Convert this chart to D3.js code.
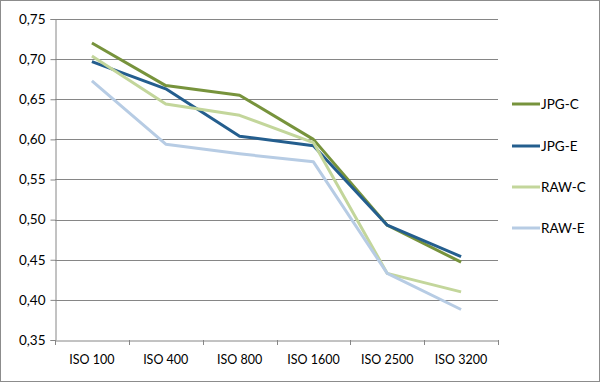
<!DOCTYPE html>
<html><head><meta charset="utf-8">
<script src="https://cdn.jsdelivr.net/npm/d3@7"></script>
<style>html,body{margin:0;padding:0;background:#fff;}svg{display:block;}</style>
</head><body>
<script>
const categories = ["ISO 100","ISO 400","ISO 800","ISO 1600","ISO 2500","ISO 3200"];
const seriesNames = ["JPG-C","JPG-E","RAW-C","RAW-E"];
const jpgC = [0.720,0.667,0.655,0.600,0.493,0.447];
const jpgE = [0.697,0.663,0.604,0.592,0.493,0.454];
const rawC = [0.704,0.644,0.630,0.596,0.433,0.410];
const rawE = [0.673,0.594,0.582,0.572,0.433,0.388];
const yTicks = [0.35,0.40,0.45,0.50,0.55,0.60,0.65,0.70,0.75];
const colors = ["#77933C","#245E8E","#C3D69B","#B7CCE4"];
const series = [jpgC,jpgE,rawC,rawE];

const W=600,H=382;
const svg=d3.select("body").append("svg").attr("width",W).attr("height",H);
svg.append("rect").attr("x",0.5).attr("y",0.5).attr("width",W-1).attr("height",H-1)
  .attr("fill","#fff").attr("stroke","#8c8c8c");
const L=55,R=498,T=19,B=340;
const x=d3.scaleBand().domain(categories).range([L,R]);
const y=d3.scaleLinear().domain([0.35,0.75]).range([B,T]);
const font="Lato, 'Open Sans', sans-serif";

// gridlines
svg.append("g").selectAll("line").data(yTicks.slice(1)).join("line")
  .attr("x1",L).attr("x2",R).attr("y1",d=>Math.round(y(d))+0.5).attr("y2",d=>Math.round(y(d))+0.5)
  .attr("stroke","#868686").attr("stroke-width",1);

// y axis
const ya=svg.append("g").attr("transform",`translate(${L+0.5},0)`)
  .call(d3.axisLeft(y).tickValues(yTicks).tickSize(5).tickPadding(5)
    .tickFormat(d=>d3.format(".2f")(d).replace(".",",")));
ya.selectAll("path,line").attr("stroke","#868686");
ya.selectAll("text").attr("font-family",font).attr("font-size",13.5).attr("fill","#000");

// x axis
const xa=svg.append("g").attr("transform",`translate(0,${B+0.5})`)
  .call(d3.axisBottom(x).tickSize(0).tickPadding(15));
xa.select("path").attr("stroke","#868686");
xa.selectAll("text").attr("font-family",font).attr("font-size",12.5).attr("fill","#000");
const bounds=categories.map(c=>x(c)).concat([R]);
svg.append("g").selectAll("line").data(bounds).join("line")
  .attr("x1",d=>Math.round(d)+0.5).attr("x2",d=>Math.round(d)+0.5).attr("y1",B).attr("y2",B+5)
  .attr("stroke","#868686");

// lines
const line=d3.line().x((d,i)=>x(categories[i])+x.bandwidth()/2).y(d=>y(d));
svg.append("g").selectAll("path").data(series).join("path")
  .attr("d",d=>line(d)).attr("fill","none")
  .attr("stroke",(d,i)=>colors[i]).attr("stroke-width",3).attr("stroke-linejoin","round");

// legend
const legY=[104,146,187,228];
const lg=svg.append("g").selectAll("g").data(seriesNames).join("g")
  .attr("transform",(d,i)=>`translate(512,${legY[i]})`);
lg.append("line").attr("x1",0).attr("x2",28).attr("y1",0).attr("y2",0)
  .attr("stroke",(d,i)=>colors[i]).attr("stroke-width",3);
lg.append("text").attr("x",29).attr("y",5).text(d=>d)
  .attr("font-family",font).attr("font-size",13.5).attr("fill","#000");
</script>
</body></html>
